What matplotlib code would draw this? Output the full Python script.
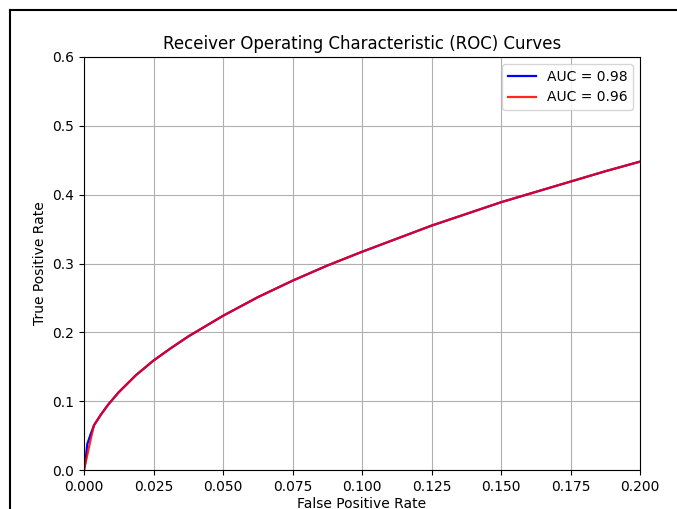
import matplotlib.pyplot as plt
from matplotlib.lines import Line2D

# values
fpr_a = [0.0, 0.0005, 0.0012, 0.0024, 0.0036, 0.006, 0.0087, 0.0125, 0.01875, 0.025,
         0.03125, 0.0375, 0.04375, 0.05, 0.0625, 0.075, 0.0875, 0.1, 0.1125, 0.125,
         0.1375, 0.15, 0.1625, 0.175, 0.1875, 0.2]
tpr_a = [0.0, 0.012, 0.038, 0.052, 0.065, 0.080, 0.095, 0.113, 0.138, 0.159,
         0.177, 0.194, 0.209, 0.224, 0.251, 0.275, 0.297, 0.317, 0.336, 0.355,
         0.372, 0.389, 0.404, 0.419, 0.434, 0.448]

fpr_b = [0.0, 0.0013, 0.0026, 0.0036, 0.006, 0.0087, 0.0125, 0.01875, 0.025,
         0.03125, 0.0375, 0.04375, 0.05, 0.0625, 0.075, 0.0875, 0.1, 0.1125, 0.125,
         0.1375, 0.15, 0.1625, 0.175, 0.1875, 0.2]
tpr_b = [0.0, 0.024, 0.048, 0.065, 0.080, 0.095, 0.113, 0.138, 0.159,
         0.177, 0.194, 0.209, 0.224, 0.251, 0.275, 0.297, 0.317, 0.336, 0.355,
         0.372, 0.389, 0.404, 0.419, 0.434, 0.448]

auc_a = 0.98
auc_b = 0.96

fig = plt.figure(figsize=(6.77, 5.09), dpi=100)
ax = fig.add_axes([84/677, 1-470/509, (640-84)/677, (470-57)/509])

ax.plot(fpr_a, tpr_a, color='blue', lw=1.6, label=f'AUC = {auc_a:.2f}')
ax.plot(fpr_b, tpr_b, color='red', lw=1.6, alpha=0.85, label=f'AUC = {auc_b:.2f}')

ax.set_xlim(0, 0.2)
ax.set_ylim(0, 0.6)
ax.set_xlabel('False Positive Rate', labelpad=2)
ax.set_ylabel('True Positive Rate')
ax.set_title('Receiver Operating Characteristic (ROC) Curves')
ax.grid(True)
ax.legend(loc='upper right')

# screenshot frame
fig.add_artist(Line2D([10/677, 1], [1-10/509, 1-10/509], color='black', lw=1.5, transform=fig.transFigure))
fig.add_artist(Line2D([10/677, 10/677], [0, 1-10/509], color='black', lw=1.5, transform=fig.transFigure))

fig.savefig('out.png', dpi=100)
